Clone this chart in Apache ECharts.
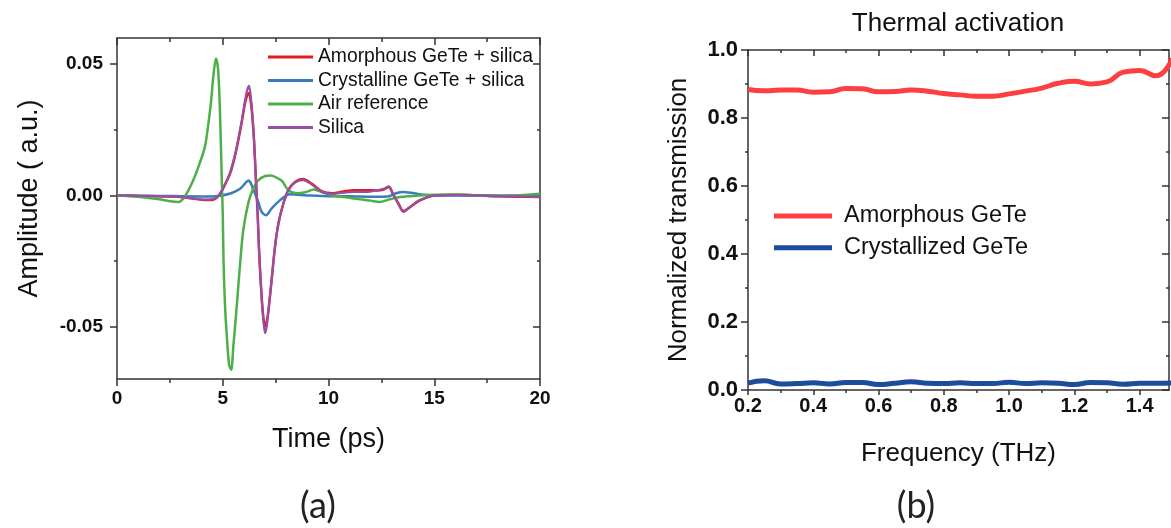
<!DOCTYPE html>
<html><head><meta charset="utf-8">
<script src="https://cdn.jsdelivr.net/npm/echarts@6/dist/echarts.min.js"></script>
<style>html,body{margin:0;padding:0;background:#fff}#c{width:1171px;height:528px}</style>
</head><body><div id="c"></div>
<script>
// ---------- Panel (a): time-domain THz pulses ----------
const airT = [0, 1, 2, 2.5, 2.9, 3.2, 3.6, 3.9, 4.15, 4.3, 4.45, 4.55, 4.68, 4.78, 4.86, 4.92, 4.96, 5.0, 5.04, 5.11, 5.2, 5.3, 5.4, 5.5, 5.66, 5.82, 5.97, 6.2, 6.4, 6.65, 7.0, 7.25, 7.5, 7.8, 8.1, 8.5, 8.9, 9.3, 9.7, 10.3, 10.9, 11.5, 12.0, 12.4, 12.9, 13.4, 14.3, 15, 16, 17, 18, 19, 20];
const airV = [0, -0.0005, -0.0015, -0.0022, -0.0025, -0.0005, 0.0057, 0.012, 0.0183, 0.026, 0.036, 0.045, 0.0522, 0.048, 0.034, 0.017, 0.004, -0.007, -0.026, -0.0424, -0.0545, -0.0645, -0.0665, -0.0576, -0.0424, -0.026, -0.0133, -0.0032, 0.0019, 0.0055, 0.0074, 0.0076, 0.007, 0.0055, 0.002, 0.0008, 0.0012, 0.0022, 0.0012, -0.0002, -0.0008, -0.0015, -0.002, -0.0025, -0.0015, -0.0006, 0, 0.0002, 0.0003, 0, -0.0003, 0, 0.0006];

const sampleT = [0, 1, 2, 3, 3.6, 4.2, 4.6, 4.87, 5.1, 5.34, 5.5, 5.66, 5.9, 6.05, 6.15, 6.24, 6.32, 6.4, 6.48, 6.57, 6.65, 6.71, 6.79, 6.89, 7.0, 7.08, 7.15, 7.31, 7.47, 7.63, 7.87, 8.1, 8.4, 8.8, 9.2, 9.7, 10.2, 10.7, 11.2, 11.8, 12.3, 12.6, 12.85, 13.05, 13.3, 13.55, 13.85, 14.3, 15, 16, 17, 18, 19, 20];
const amorphV = [0, -0.0002, -0.0003, -0.0006, -0.0012, -0.0018, -0.0015, 0.0006, 0.004, 0.0082, 0.0125, 0.018, 0.028, 0.035, 0.038, 0.039, 0.036, 0.03, 0.0209, 0.0057, -0.007, -0.0196, -0.0323, -0.044, -0.05, -0.048, -0.0445, -0.0323, -0.0196, -0.0108, -0.003, 0.002, 0.005, 0.0062, 0.0045, 0.0015, 0.0008, 0.0015, 0.002, 0.002, 0.0019, 0.0022, 0.0032, 0.0005, -0.003, -0.006, -0.0045, -0.002, 0, 0.0002, 0, -0.0003, -0.0005, -0.0006];
const silicaV = [0, -0.0002, -0.0003, -0.0006, -0.0012, -0.0016, -0.0013, 0.0006, 0.0042, 0.0085, 0.013, 0.0185, 0.0285, 0.036, 0.040, 0.0418, 0.038, 0.031, 0.021, 0.0057, -0.007, -0.0196, -0.0323, -0.0449, -0.0525, -0.05, -0.0449, -0.0323, -0.0196, -0.0108, -0.003, 0.002, 0.0048, 0.0058, 0.0042, 0.0013, 0.0006, 0.001, 0.0013, 0.0013, 0.0019, 0.0025, 0.0034, 0.0006, -0.0032, -0.0063, -0.0044, -0.0019, 0, 0.0001, 0, -0.0003, -0.0004, -0.0006];

const crystT = [0, 2, 4, 4.8, 5.4, 5.82, 6.05, 6.21, 6.3, 6.37, 6.52, 6.68, 6.84, 7.04, 7.31, 7.7, 8.18, 9, 10, 11, 12, 12.8, 13.2, 13.5, 13.9, 14.5, 15, 16, 18, 20];
const crystV = [0, -0.0002, -0.0004, -0.0002, 0.0008, 0.0025, 0.0045, 0.0057, 0.005, 0.0038, 0.0008, -0.0025, -0.0063, -0.0076, -0.005, -0.0019, 0.0004, 0, -0.0003, -0.0003, -0.0005, -0.0004, 0.0008, 0.0013, 0.001, 0.0002, 0, 0, 0, 0];

const timeTicks = [0, 5, 10, 15, 20];
const timeMinor = [2.5, 7.5, 12.5, 17.5];
const ampTicks = [-0.05, 0, 0.05];
const ampMinor = [-0.025, 0.025];

// ---------- Panel (b): normalized transmission ----------
const freq = [0.20, 0.25, 0.30, 0.35, 0.40, 0.45, 0.50, 0.55, 0.60, 0.65, 0.70, 0.75, 0.80, 0.85, 0.90, 0.95, 1.00, 1.05, 1.10, 1.15, 1.20, 1.25, 1.30, 1.35, 1.40, 1.45, 1.50];
const amorphT = [0.884, 0.880, 0.882, 0.882, 0.876, 0.877, 0.887, 0.886, 0.877, 0.878, 0.882, 0.879, 0.872, 0.868, 0.864, 0.864, 0.871, 0.879, 0.888, 0.902, 0.908, 0.900, 0.906, 0.935, 0.940, 0.924, 0.975];
const crystTr = [0.020, 0.027, 0.018, 0.019, 0.021, 0.018, 0.022, 0.022, 0.016, 0.020, 0.024, 0.020, 0.019, 0.021, 0.019, 0.019, 0.023, 0.019, 0.021, 0.020, 0.016, 0.022, 0.021, 0.017, 0.020, 0.020, 0.021];

const freqTicks = [0.2, 0.4, 0.6, 0.8, 1.0, 1.2, 1.4];
const freqMinor = [0.3, 0.5, 0.7, 0.9, 1.1, 1.3];
const transTicks = [0.0, 0.2, 0.4, 0.6, 0.8, 1.0];
const transMinor = [0.1, 0.3, 0.5, 0.7, 0.9];

const FONT = "'Liberation Sans', Arial, sans-serif";
const AX = { color: '#333', width: 1.5 };

function zip(a, b) { return a.map((v, i) => [v, b[i]]); }

function axis(o) {
  return {
    type: 'value', gridIndex: o.grid, position: o.pos, min: o.min, max: o.max,
    axisLine: { show: !!o.line, onZero: false, lineStyle: AX },
    axisTick: { show: true, inside: !!o.inside, customValues: o.ticks, length: o.len, lineStyle: AX },
    axisLabel: o.label ? Object.assign({ show: true, customValues: o.ticks, color: '#111', fontFamily: FONT, fontWeight: 'bold' }, o.label) : { show: false },
    splitLine: { show: false },
    name: o.name || '', nameLocation: 'middle', nameGap: o.nameGap || 0,
    nameTextStyle: o.nameStyle || {}
  };
}

const xAxes = [
  axis({ grid: 0, pos: 'bottom', min: 0, max: 20, line: true, ticks: timeTicks, len: 7,
    label: { fontSize: 19, margin: 10, formatter: v => String(v) },
    name: 'Time (ps)', nameGap: 47, nameStyle: { fontSize: 27, color: '#111', fontFamily: FONT } }),
  axis({ grid: 0, pos: 'bottom', min: 0, max: 20, ticks: timeMinor, len: 4 }),
  axis({ grid: 0, pos: 'top', min: 0, max: 20, line: true, inside: true, ticks: timeTicks, len: 7 }),
  axis({ grid: 0, pos: 'top', min: 0, max: 20, inside: true, ticks: timeMinor, len: 4 }),
  axis({ grid: 1, pos: 'bottom', min: 0.2, max: 1.49, line: true, ticks: freqTicks, len: 5,
    label: { fontSize: 20, margin: 6, formatter: v => v.toFixed(1) },
    name: 'Frequency (THz)', nameGap: 51, nameStyle: { fontSize: 26, color: '#111', fontFamily: FONT } }),
  axis({ grid: 1, pos: 'bottom', min: 0.2, max: 1.49, ticks: freqMinor, len: 3 }),
  axis({ grid: 1, pos: 'top', min: 0.2, max: 1.49, line: true, inside: true, ticks: freqTicks, len: 6 }),
  axis({ grid: 1, pos: 'top', min: 0.2, max: 1.49, inside: true, ticks: freqMinor, len: 3 })
];

const yAxes = [
  axis({ grid: 0, pos: 'left', min: -0.07, max: 0.06, line: true, ticks: ampTicks, len: 7,
    label: { fontSize: 19, margin: 14, formatter: v => v.toFixed(2) },
    name: 'Amplitude ( a.u.)', nameGap: 74,
    nameStyle: { fontSize: 27, color: '#111', fontFamily: FONT, padding: [0, 0, 0, 20] } }),
  axis({ grid: 0, pos: 'left', min: -0.07, max: 0.06, ticks: ampMinor, len: 3 }),
  axis({ grid: 0, pos: 'right', min: -0.07, max: 0.06, line: true, inside: true, ticks: ampTicks, len: 7 }),
  axis({ grid: 0, pos: 'right', min: -0.07, max: 0.06, inside: true, ticks: ampMinor, len: 3 }),
  axis({ grid: 1, pos: 'left', min: 0, max: 1, line: true, ticks: transTicks, len: 7,
    label: { fontSize: 22, margin: 10, formatter: v => v.toFixed(1) },
    name: 'Normalized transmission', nameGap: 56,
    nameStyle: { fontSize: 26, color: '#111', fontFamily: FONT } }),
  axis({ grid: 1, pos: 'left', min: 0, max: 1, ticks: transMinor, len: 3 }),
  axis({ grid: 1, pos: 'right', min: 0, max: 1, line: true, inside: true, ticks: transTicks, len: 7 }),
  axis({ grid: 1, pos: 'right', min: 0, max: 1, inside: true, ticks: transMinor, len: 3 })
];

function line(name, xi, yi, data, color, width, smooth) {
  return { name, type: 'line', xAxisIndex: xi, yAxisIndex: yi, data, showSymbol: false, symbol: 'none',
    smooth, clip: true, lineStyle: { width, color }, itemStyle: { color } };
}

const option = {
  animation: false,
  backgroundColor: '#fff',
  title: [
    { text: 'Thermal activation', left: 958, textAlign: 'center', top: 11, padding: 0,
      textStyle: { fontSize: 26, fontWeight: 'normal', color: '#111', fontFamily: FONT } },
    { text: '(a)', left: 318, textAlign: 'center', top: 488, padding: 0,
      textStyle: { fontSize: 36, fontWeight: 'normal', color: '#222', fontFamily: 'Lato, sans-serif' } },
    { text: '(b)', left: 916, textAlign: 'center', top: 488, padding: 0,
      textStyle: { fontSize: 36, fontWeight: 'normal', color: '#222', fontFamily: 'Lato, sans-serif' } }
  ],
  grid: [
    { left: 117, top: 38, width: 423, height: 341 },
    { left: 748, top: 50, width: 421, height: 340 }
  ],
  legend: [
    { orient: 'vertical', left: 268, top: 47, padding: 0, itemWidth: 45, itemHeight: 3, itemGap: 3.5,
      textStyle: { fontSize: 19.3, lineHeight: 20, color: '#111', fontFamily: FONT },
      data: [
        { name: 'Amorphous GeTe + silica', icon: 'rect' },
        { name: 'Crystalline GeTe + silica', icon: 'rect' },
        { name: 'Air reference', icon: 'rect' },
        { name: 'Silica', icon: 'rect' }
      ] },
    { orient: 'vertical', left: 774, top: 203, padding: 0, itemWidth: 58, itemHeight: 5, itemGap: 5.7,
      textStyle: { fontSize: 23.5, lineHeight: 26, color: '#111', fontFamily: FONT, padding: [0, 0, 0, 7] },
      data: [
        { name: 'Amorphous GeTe', icon: 'rect' },
        { name: 'Crystallized GeTe', icon: 'rect' }
      ] }
  ],
  xAxis: xAxes,
  yAxis: yAxes,
  series: [
    line('Amorphous GeTe + silica', 0, 0, zip(sampleT, amorphV), '#e41a1c', 2.5, 0.3),
    line('Crystalline GeTe + silica', 0, 0, zip(crystT, crystV), '#377eb8', 2.5, 0.3),
    line('Air reference', 0, 0, zip(airT, airV), '#4daf4a', 2.5, 0.3),
    line('Silica', 0, 0, zip(sampleT, silicaV), '#984ea3', 2.2, 0.3),
    line('Amorphous GeTe', 4, 4, zip(freq, amorphT), '#fd3f3f', 5, 0.5),
    line('Crystallized GeTe', 4, 4, zip(freq, crystTr), '#1c4c9c', 5, 0.5)
  ]
};

const chart = echarts.init(document.getElementById('c'), null, { renderer: 'canvas' });
chart.setOption(option);
</script>
</body></html>
